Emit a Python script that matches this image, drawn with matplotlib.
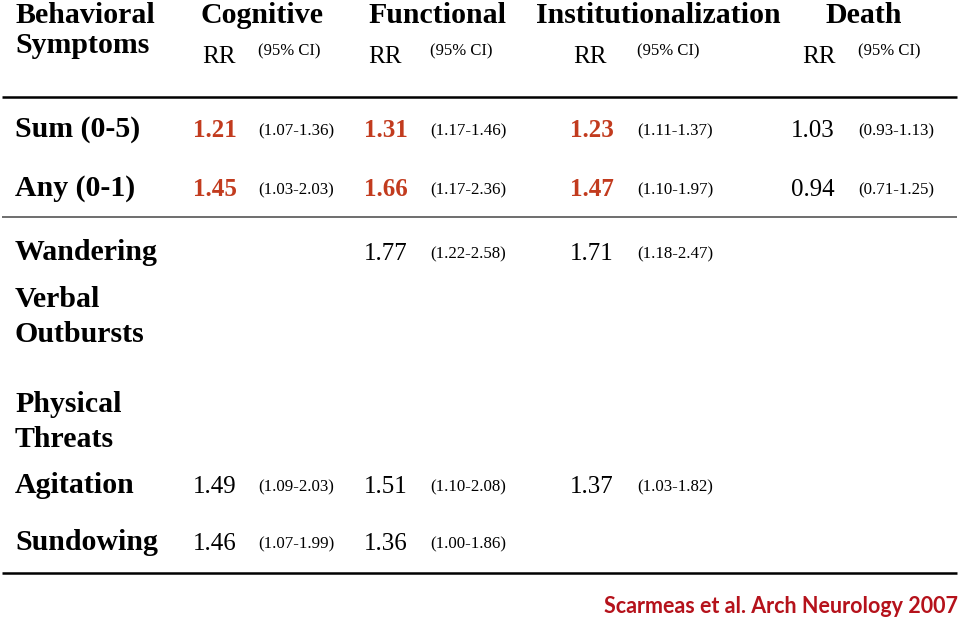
import matplotlib
matplotlib.use('Agg')
import matplotlib.pyplot as plt

# 表格数据
outcomes = ['Cognitive', 'Functional', 'Institutionalization', 'Death']
symptoms = ['Sum (0-5)', 'Any (0-1)', 'Wandering', 'Verbal\nOutbursts',
            'Physical\nThreats', 'Agitation', 'Sundowing']

cognitive_rr = ['1.21', '1.45', '', '', '', '1.49', '1.46']
cognitive_ci = ['(1.07-1.36)', '(1.03-2.03)', '', '', '', '(1.09-2.03)', '(1.07-1.99)']
functional_rr = ['1.31', '1.66', '1.77', '', '', '1.51', '1.36']
functional_ci = ['(1.17-1.46)', '(1.17-2.36)', '(1.22-2.58)', '', '', '(1.10-2.08)', '(1.00-1.86)']
institution_rr = ['1.23', '1.47', '1.71', '', '', '1.37', '']
institution_ci = ['(1.11-1.37)', '(1.10-1.97)', '(1.18-2.47)', '', '', '(1.03-1.82)', '']
death_rr = ['1.03', '0.94', '', '', '', '', '']
death_ci = ['(0.93-1.13)', '(0.71-1.25)', '', '', '', '', '']

# 显著结果（红色粗体）: 行 x 列
highlight = [[True, True, True, False],
             [True, True, True, False],
             [False] * 4, [False] * 4, [False] * 4, [False] * 4, [False] * 4]

citation = 'Scarmeas et al. Arch Neurology 2007'

rr_cols = [cognitive_rr, functional_rr, institution_rr, death_rr]
ci_cols = [cognitive_ci, functional_ci, institution_ci, death_ci]

# 布局（像素坐标）
header_x = [200, 368, 536, 825]
rr_head_x = [202, 368, 573, 802]
rr_x = [193, 364, 570, 791]
ci_x = [258, 430, 637, 858]
row_y = [137, 196, 260, 307, 412, 493, 550]
line_gap = 35

serif = 'Liberation Serif'
red = '#C23B1E'

fig = plt.figure(figsize=(9.6, 6.21), dpi=100)
ax = fig.add_axes([0, 0, 1, 1])
ax.set_xlim(0, 960)
ax.set_ylim(621, 0)
ax.axis('off')

# 表头
ax.text(15, 23, 'Behavioral', family=serif, weight='bold', fontsize=21.5, va='baseline')
ax.text(15, 53, 'Symptoms', family=serif, weight='bold', fontsize=21.5, va='baseline')
for j, name in enumerate(outcomes):
    ax.text(header_x[j], 23, name, family=serif, weight='bold', fontsize=21.5, va='baseline')
    ax.text(rr_head_x[j], 63, 'RR', family=serif, fontsize=18, va='baseline')
    ax.text(ci_x[j], 55, '(95% CI)', family=serif, fontsize=12, va='baseline')

# 分隔线
ax.hlines(97, 2, 957, color='black', lw=1.8)
ax.hlines(217, 2, 957, color='#555555', lw=1.2)
ax.hlines(573, 2, 957, color='black', lw=1.8)

# 表体
for i, label in enumerate(symptoms):
    for k, part in enumerate(label.split('\n')):
        ax.text(15, row_y[i] + k * line_gap, part, family=serif, weight='bold',
                fontsize=21.5, va='baseline')
    for j in range(len(outcomes)):
        rr = rr_cols[j][i]
        ci = ci_cols[j][i]
        if rr:
            if highlight[i][j]:
                ax.text(rr_x[j], row_y[i], rr, family=serif, weight='bold',
                        fontsize=18, color=red, va='baseline')
            else:
                ax.text(rr_x[j], row_y[i], rr, family=serif, fontsize=18, va='baseline')
        if ci:
            ax.text(ci_x[j], row_y[i] - 2, ci, family=serif, fontsize=12.2, va='baseline')

# 引用
ax.text(958, 613, citation, family='Lato', weight='bold', fontsize=15.5,
        color='#B5121B', ha='right', va='baseline')

fig.savefig('out.png', dpi=100)
